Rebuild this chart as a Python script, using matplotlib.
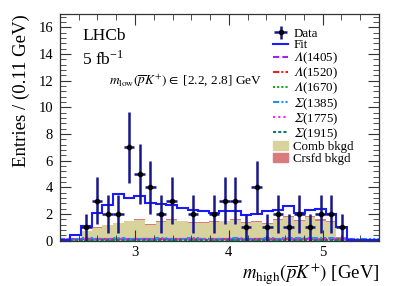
import numpy as np
import matplotlib
matplotlib.use('Agg')
import matplotlib.pyplot as plt
from matplotlib.ticker import MultipleLocator
from matplotlib.lines import Line2D
from matplotlib.patches import Patch

plt.rcParams['font.family'] = ['Liberation Serif', 'DejaVu Serif']
plt.rcParams['mathtext.fontset'] = 'stix'

# 30 bins from 2.2 to 5.6 GeV (0.113 GeV wide)
x_min, x_max, n_bins = 2.2, 5.6, 30

# Data counts per bin
data_counts = [0, 0, 1, 3, 2, 2, 7, 5, 4, 2,
               3, 0, 2, 0, 2, 3, 3, 1, 4, 1,
               2, 1, 2, 1, 2, 2, 1, 0, 0, 0]

# Total fit per bin
fit_vals = [0.03, 0.40, 1.10, 2.08, 2.70, 3.50, 3.20, 3.35, 2.78, 2.72,
            2.65, 2.44, 2.30, 2.18, 2.06, 2.20, 2.20, 1.95, 2.02, 2.25,
            2.30, 2.60, 2.10, 2.30, 2.40, 2.00, 1.02, 0.06, 0.04, 0.03]

# Combinatorial background
comb_vals = [0.0, 0.05, 0.70, 0.95, 1.15, 1.30, 1.45, 1.55, 1.20, 1.40,
             1.55, 1.45, 1.35, 1.35, 1.40, 1.45, 1.55, 1.35, 1.40, 1.25,
             1.55, 1.75, 1.50, 1.80, 1.50, 1.40, 0.20, 0.0, 0.0, 0.0]

# Cross-feed background
crsfd_vals = [0.0, 0.0, 0.02, 0.03, 0.03, 0.04, 0.04, 0.03, 0.03, 0.04,
              0.03, 0.03, 0.04, 0.03, 0.03, 0.04, 0.05, 0.04, 0.04, 0.05,
              0.05, 0.06, 0.06, 0.07, 0.08, 0.09, 0.10, 0.02, 0.0, 0.0]

# Signal components (small)
LAM = '$\U0001D6EC$'
SIG = '$\U0001D6F4$'
comp_labels = [LAM + '(1405)', LAM + '(1520)', LAM + '(1670)',
               SIG + '(1385)', SIG + '(1775)', SIG + '(1915)']
comp_colors = ['#a020f0', '#e8201c', '#20a020', '#2090ff', '#ff20ff', '#107a78']
comp_styles = [(0, (3, 1.5)), (0, (3, 1, 1, 1)), (0, (1, 1)),
               (0, (3, 1, 1, 1, 1, 1)), (0, (1, 1.5)), (0, (1.5, 1))]
comp_vals = [
    [0.10, 0.12, 0.14, 0.14, 0.12, 0.13, 0.12, 0.11, 0.12, 0.10,
     0.11, 0.10, 0.12, 0.11, 0.10, 0.11, 0.12, 0.10, 0.11, 0.12,
     0.11, 0.12, 0.13, 0.12, 0.14, 0.12, 0.10, 0.08, 0.07, 0.06],
    [0.06, 0.08, 0.10, 0.09, 0.08, 0.10, 0.09, 0.08, 0.10, 0.09,
     0.08, 0.09, 0.10, 0.09, 0.08, 0.10, 0.09, 0.08, 0.09, 0.10,
     0.09, 0.10, 0.12, 0.10, 0.14, 0.12, 0.10, 0.06, 0.05, 0.04],
    [0.04, 0.05, 0.05, 0.06, 0.05, 0.06, 0.05, 0.05, 0.06, 0.05,
     0.05, 0.06, 0.05, 0.05, 0.06, 0.05, 0.06, 0.05, 0.05, 0.06,
     0.05, 0.06, 0.06, 0.05, 0.06, 0.06, 0.05, 0.04, 0.04, 0.03],
    [0.12, 0.14, 0.16, 0.15, 0.14, 0.16, 0.15, 0.14, 0.15, 0.16,
     0.14, 0.15, 0.16, 0.15, 0.14, 0.15, 0.16, 0.15, 0.14, 0.16,
     0.15, 0.16, 0.17, 0.16, 0.18, 0.17, 0.14, 0.10, 0.09, 0.08],
    [0.08, 0.09, 0.11, 0.10, 0.09, 0.11, 0.10, 0.09, 0.10, 0.11,
     0.09, 0.10, 0.11, 0.10, 0.09, 0.10, 0.11, 0.10, 0.09, 0.11,
     0.10, 0.11, 0.12, 0.11, 0.13, 0.12, 0.10, 0.07, 0.06, 0.05],
    [0.03, 0.04, 0.04, 0.04, 0.04, 0.05, 0.04, 0.04, 0.05, 0.04,
     0.04, 0.05, 0.04, 0.04, 0.05, 0.04, 0.05, 0.04, 0.04, 0.05,
     0.04, 0.05, 0.05, 0.04, 0.05, 0.05, 0.04, 0.03, 0.03, 0.02],
]

edges = np.linspace(x_min, x_max, n_bins + 1)
centers = 0.5 * (edges[:-1] + edges[1:])
half_w = 0.5 * (edges[1] - edges[0])
counts = np.array(data_counts, dtype=float)

fig = plt.figure(figsize=(3.99, 2.86), dpi=100)
ax = fig.add_axes([0.150, 0.159, 0.800, 0.792])

comb_color = '#d8d29c'
crsfd_color = '#d97b7b'

# backgrounds (stacked fill)
ax.stairs(comb_vals, edges, fill=True, color=comb_color, lw=0)
ax.stairs(np.array(comb_vals) + np.array(crsfd_vals), edges,
          baseline=comb_vals, fill=True, color=crsfd_color, lw=0)

# signal components
for vals, col, ls in zip(comp_vals, comp_colors, comp_styles):
    ax.stairs(vals, edges, color=col, linestyle=ls, lw=1.5)

# total fit
fit_color = '#1a1aff'
ax.stairs(fit_vals, edges, color=fit_color, lw=1.5)

# data
mask = counts > 0
data_color = '#16168f'
data_handle = ax.errorbar(centers[mask], counts[mask], yerr=np.sqrt(counts[mask]), xerr=half_w,
                          fmt='o', ms=3, color='black', ecolor=data_color, elinewidth=1.8,
                          capsize=0, zorder=5)

ax.set_xlim(x_min, x_max)
ax.set_ylim(0, 17)
ax.xaxis.set_major_locator(MultipleLocator(1))
ax.xaxis.set_minor_locator(MultipleLocator(0.2))
ax.yaxis.set_major_locator(MultipleLocator(2))
ax.yaxis.set_minor_locator(MultipleLocator(0.4))
ax.tick_params(which='both', direction='in', top=True, right=True,
               labelsize=10.5, color='#333333')
ax.tick_params(which='major', length=8, width=0.8)
ax.tick_params(which='minor', length=4, width=0.6)
ax.tick_params(axis='x', pad=4)
ax.tick_params(axis='y', pad=5)
for sp in ax.spines.values():
    sp.set_linewidth(0.9)
    sp.set_color('#333333')

ax.set_xlabel(r'$m_{\mathrm{high}}(\overline{p}K^{+})$ [GeV]', fontsize=13.5, loc='right', labelpad=2)
ax.set_ylabel('Entries / (0.11 GeV)', fontsize=13.5, loc='top', labelpad=6)

ax.text(0.07, 0.885, 'LHCb', transform=ax.transAxes, fontsize=12.5)
ax.text(0.07, 0.775, r'5 fb$^{\mathregular{-1}}$', transform=ax.transAxes, fontsize=12.5)
ax.text(0.155, 0.69, r'$m_{\mathrm{low}}(\overline{p}K^{+})\in$ [2.2, 2.8] GeV',
        transform=ax.transAxes, fontsize=9.6)

handles = [data_handle, Line2D([], [], color=fit_color, lw=1.5)]
for col, ls in zip(comp_colors, comp_styles):
    handles.append(Line2D([], [], color=col, linestyle=ls, lw=1.5))
handles.append(Patch(color=comb_color))
handles.append(Patch(color=crsfd_color))
labels = ['Data', 'Fit'] + comp_labels + ['Comb bkgd', 'Crsfd bkgd']

ax.legend(handles, labels, loc='upper left', bbox_to_anchor=(0.668, 0.94),
          frameon=False, fontsize=9.3, labelspacing=-0.03, handlelength=1.15,
          handletextpad=0.4, borderpad=0, borderaxespad=0, handleheight=0.7)

fig.savefig('out.png', dpi=100)
